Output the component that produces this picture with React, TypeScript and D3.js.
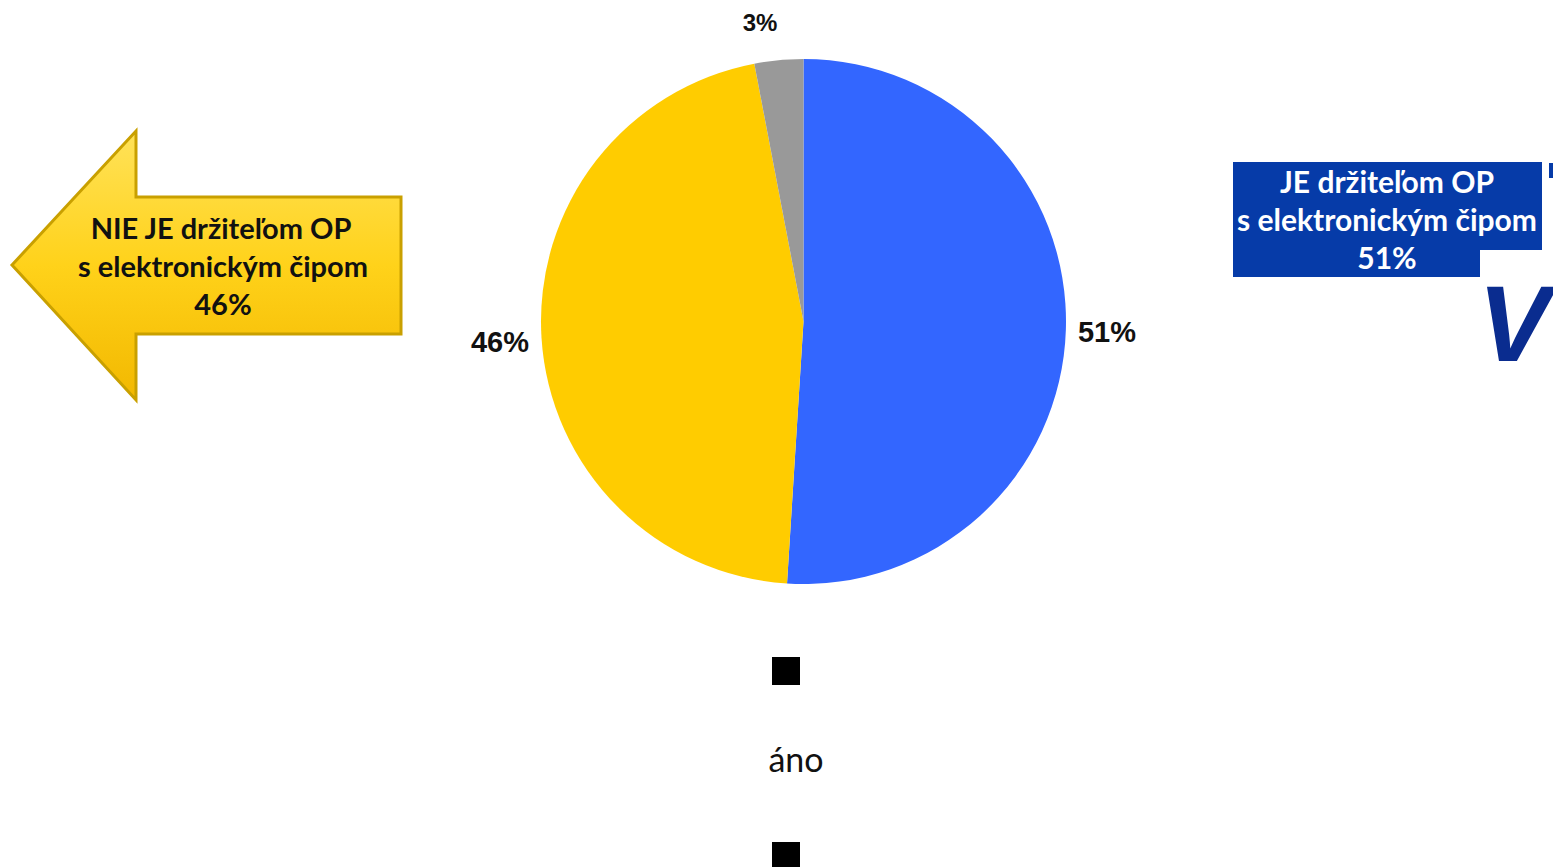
import React from "react";
import * as d3 from "d3";

const categories = ["JE držiteľom OP s elektronickým čipom", "NIE JE držiteľom OP s elektronickým čipom", "nevie"];
const values = [51, 46, 3];
const labels = ["51%", "46%", "3%"];
const colors = ["#3366FF", "#FFCC00", "#999999"];
const legendItems = ["áno"];

export default function App() {
  const W = 1553, H = 867;
  const cx = 803.5, cy = 321.5, r = 262.5;
  const pie = d3.pie<number>().sort(null).value((d) => d)(values);
  const arc = d3.arc<d3.PieArcDatum<number>>().innerRadius(0).outerRadius(r);
  const labelPos: [number, number][] = [
    [1107, 334],
    [500, 344],
    [760, 25],
  ];
  const labelSize = [29, 29, 24];
  const font = "Lato, 'Open Sans', sans-serif";
  return (
    <svg width={W} height={H} style={{ position: "absolute", left: 0, top: 0 }}>
      <defs>
        <linearGradient id="arrowGrad" x1="0" y1="0" x2="0" y2="1">
          <stop offset="0" stopColor="#FFE259" />
          <stop offset="0.5" stopColor="#FFD21A" />
          <stop offset="1" stopColor="#F2B800" />
        </linearGradient>
      </defs>
      <rect width={W} height={H} fill="#fff" />
      <g transform={`translate(${cx},${cy})`}>
        {pie.map((p, i) => (
          <path key={i} d={arc(p) || ""} fill={colors[i]} />
        ))}
      </g>
      {labels.map((l, i) => (
        <text
          key={i}
          x={labelPos[i][0]}
          y={labelPos[i][1]}
          textAnchor="middle"
          dominantBaseline="middle"
          fontFamily="'Liberation Sans', Arial, sans-serif"
          fontWeight="bold"
          fontSize={labelSize[i]}
          fill="#111"
        >
          {l}
        </text>
      ))}
      {/* arrow */}
      <path
        d="M12,265 L136,131 L136,197 L401,197 L401,334 L136,334 L136,400 Z"
        fill="url(#arrowGrad)"
        stroke="#C9A000"
        strokeWidth={3}
        strokeLinejoin="miter"
      />
      <g fontFamily={font} fontWeight="bold" fontSize={29} fill="#111" textAnchor="middle">
        <text x={221} y={239}>NIE JE držiteľom OP</text>
        <text x={223} y={277}>s elektronickým čipom</text>
        <text x={223} y={315}>{values[1]}%</text>
      </g>
      {/* right blue box */}
      <path d="M1233,162 L1542,162 L1542,250 L1480,250 L1480,277 L1233,277 Z" fill="#063BA8" />
      <rect x={1549} y={163} width={4} height={15} fill="#063BA8" />
      <g fontFamily={font} fontWeight="bold" fontSize={30} fill="#fff" textAnchor="middle">
        <text x={1387} y={193}>JE držiteľom OP</text>
        <text x={1387} y={231}>s elektronickým čipom</text>
        <text x={1387} y={269}>{values[0]}%</text>
      </g>
      <text x={1478} y={361} fontFamily="'Liberation Sans', Arial, sans-serif" fontWeight="bold" fontStyle="italic" fontSize={108} fill="#0A2C8F">
        V
      </text>
      {/* legend */}
      <rect x={772} y={657} width={28} height={28} fill="#000" />
      <text x={796} y={772} textAnchor="middle" fontFamily={font} fontSize={34} fill="#111">
        {legendItems[0]}
      </text>
      <rect x={772} y={842} width={28} height={28} fill="#000" />
    </svg>
  );
}
